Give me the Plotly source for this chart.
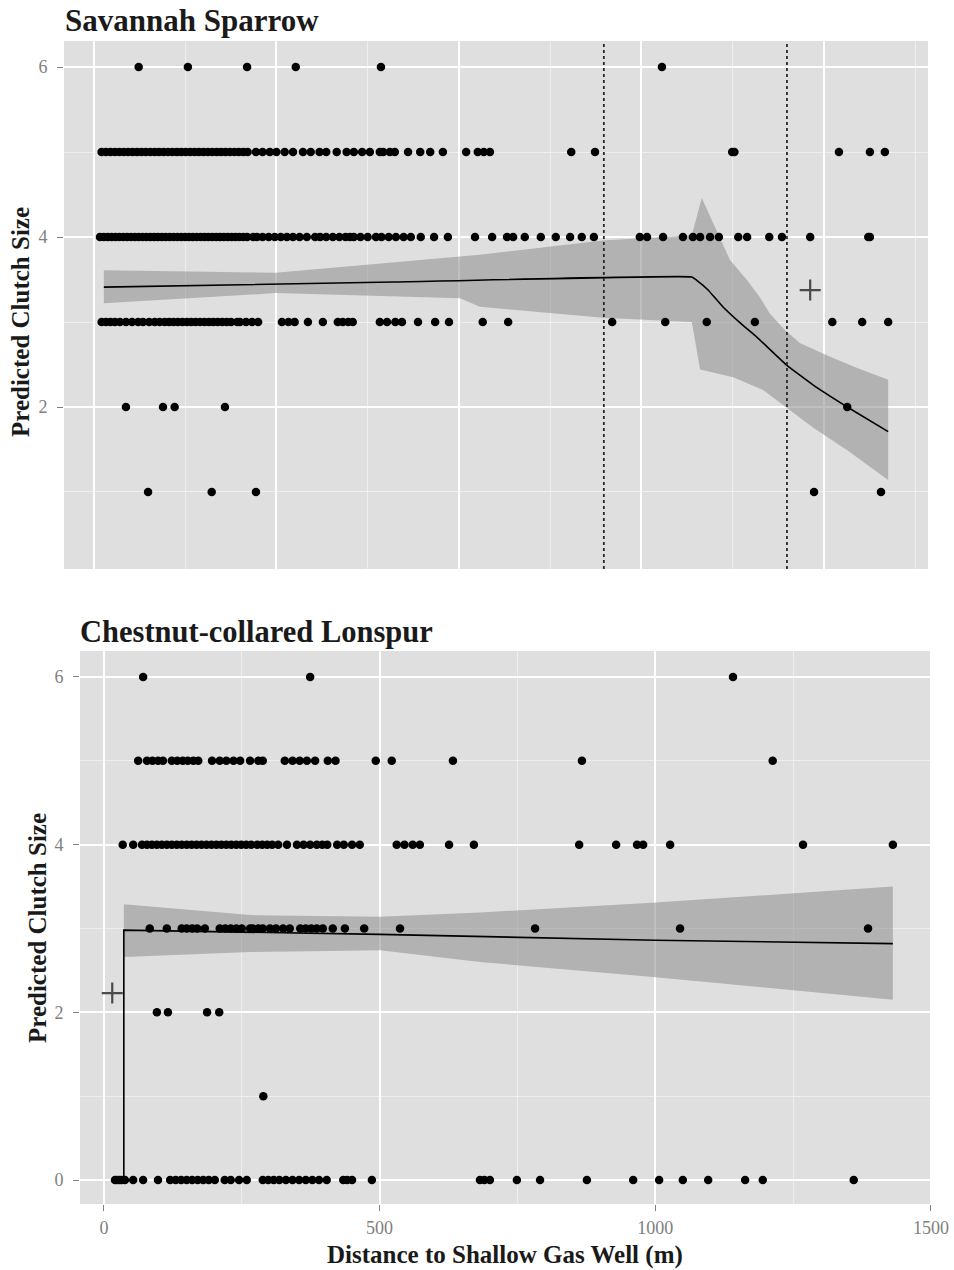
import plotly.graph_objects as go

# ---------------- Savannah Sparrow (top panel) ----------------
ss_6 = [81, 170, 277, 365, 519, 1027]
ss_5 = [14, 22, 30, 38, 46, 54, 62, 70, 78, 86, 94, 102, 110, 118, 126, 134, 142, 150, 158, 166,
        174, 182, 190, 198, 206, 214, 222, 230, 238, 246, 254, 262, 270, 278, 293, 305, 318, 330,
        345, 360, 378, 392, 408, 420, 439, 457, 470, 485, 499, 517, 523, 535, 544, 568, 590, 608,
        631, 673, 694, 705, 716, 863, 906, 1154, 1158, 1347, 1403, 1430]
ss_4 = [11, 18, 25, 32, 39, 46, 53, 60, 67, 74, 81, 88, 95, 102, 109, 116, 123, 130, 137, 144,
        151, 158, 165, 172, 179, 186, 193, 200, 207, 214, 221, 228, 235, 242, 249, 256, 263, 270,
        277, 288, 295, 305, 316, 327, 338, 349, 360, 372, 385, 400, 409, 420, 432, 444, 455, 463,
        470, 482, 495, 510, 520, 533, 546, 560, 573, 591, 615, 640, 689, 720, 747, 758, 779, 808,
        835, 861, 882, 904, 987, 1000, 1029, 1065, 1083, 1096, 1114, 1130, 1165, 1181, 1221, 1244,
        1295, 1400, 1403]
ss_3 = [14, 22, 30, 38, 47, 58, 69, 80, 89, 100, 110, 119, 128, 136, 144, 152, 160, 168, 176, 184,
        192, 200, 208, 216, 224, 232, 240, 248, 259, 264, 275, 286, 297, 340, 352, 363, 387, 414,
        441, 450, 460, 468, 517, 530, 545, 557, 586, 617, 642, 703, 749, 937, 1033, 1108, 1195,
        1335, 1389, 1436]
ss_2 = [58, 125, 146, 237, 1362]
ss_1 = [98, 213, 293, 1302, 1423]

ss_fit_x = [18, 540, 1081, 1090, 1110, 1137, 1170, 1199, 1253, 1300, 1362, 1436]
ss_fit_y = [3.41, 3.47, 3.53, 3.49, 3.38, 3.18, 2.98, 2.82, 2.49, 2.26, 2.00, 1.71]
ss_up_x = [18, 329, 662, 698, 920, 1081, 1099, 1150, 1181, 1204, 1222, 1250, 1277, 1331, 1380, 1436]
ss_up_y = [3.61, 3.58, 3.77, 3.79, 3.96, 4.02, 4.46, 3.73, 3.49, 3.29, 3.10, 2.90, 2.75, 2.59, 2.46, 2.32]
ss_lo_x = [18, 329, 662, 698, 920, 1081, 1096, 1156, 1210, 1253, 1300, 1362, 1436]
ss_lo_y = [3.22, 3.34, 3.28, 3.18, 3.05, 3.00, 2.44, 2.35, 2.20, 1.99, 1.76, 1.49, 1.14]
ss_breaks = [922, 1253]
ss_mean_x = [1295]
ss_mean_y = [3.376]

# ---------------- Chestnut-collared Longspur (bottom panel) ----------------
cc_6 = [71, 374, 1141]
cc_5 = [62, 78, 88, 98, 107, 123, 133, 143, 152, 162, 171, 196, 210, 222, 235, 247, 265, 280, 288,
        328, 342, 355, 368, 383, 406, 420, 493, 522, 633, 867, 1213]
cc_4 = [34, 53, 69, 78, 87, 96, 105, 114, 123, 132, 141, 150, 159, 168, 177, 186, 195, 204, 213,
        222, 231, 240, 249, 258, 267, 278, 287, 296, 305, 316, 332, 350, 362, 374, 386, 396, 405,
        423, 435, 450, 464, 531, 545, 560, 573, 626, 671, 862, 929, 967, 978, 1027, 1268, 1431]
cc_3 = [83, 114, 141, 150, 160, 169, 183, 210, 220, 230, 240, 250, 265, 270, 280, 288, 301, 312,
        325, 337, 356, 366, 376, 386, 397, 415, 437, 472, 537, 782, 1045, 1386]
cc_2 = [96, 116, 187, 209]
cc_1 = [289]
cc_0 = [20, 24, 28, 32, 38, 53, 71, 98, 120, 130, 140, 150, 160, 170, 180, 190, 201, 219, 230, 245,
        259, 288, 298, 308, 318, 330, 342, 354, 366, 378, 390, 404, 434, 441, 450, 486, 682, 690,
        700, 749, 791, 876, 960, 1007, 1050, 1096, 1163, 1195, 1360]

cc_fit_x = [20, 36, 36, 500, 1001, 1431]
cc_fit_y = [0, 0, 2.98, 2.93, 2.86, 2.82]
cc_up_x = [36, 265, 501, 682, 1001, 1431]
cc_up_y = [3.29, 3.16, 3.14, 3.19, 3.31, 3.50]
cc_lo_x = [36, 265, 501, 682, 1001, 1431]
cc_lo_y = [2.66, 2.72, 2.74, 2.60, 2.42, 2.15]
cc_mean_x = [15]
cc_mean_y = [2.23]

ss_rows = {6: ss_6, 5: ss_5, 4: ss_4, 3: ss_3, 2: ss_2, 1: ss_1}
cc_rows = {6: cc_6, 5: cc_5, 4: cc_4, 3: cc_3, 2: cc_2, 1: cc_1, 0: cc_0}

SERIF = "Liberation Serif, Times New Roman, serif"
PANEL = "#dfdfdf"
RIBBON = "rgba(140,140,140,0.55)"

fig = go.Figure()


def add_panel(rows, fx, fy, ux, uy, lx, ly, mx, my, xa, ya, smooth):
    fig.add_trace(go.Scatter(x=ux + lx[::-1], y=uy + ly[::-1], fill="toself", fillcolor=RIBBON,
                             line=dict(width=0), mode="lines", hoverinfo="skip",
                             xaxis=xa, yaxis=ya, showlegend=False))
    line = dict(color="black", width=1.6)
    if smooth:
        line.update(shape="spline", smoothing=0.3)
    fig.add_trace(go.Scatter(x=fx, y=fy, mode="lines", line=line,
                             xaxis=xa, yaxis=ya, showlegend=False))
    px, py = [], []
    for val, xs in rows.items():
        px += xs
        py += [val] * len(xs)
    fig.add_trace(go.Scatter(x=px, y=py, mode="markers",
                             marker=dict(color="black", size=8.5, line=dict(width=0)),
                             xaxis=xa, yaxis=ya, showlegend=False))
    fig.add_trace(go.Scatter(x=mx, y=my, mode="markers",
                             marker=dict(symbol="cross-thin", size=15, color="#4a4a4a",
                                         line=dict(color="#4a4a4a", width=2.2)),
                             xaxis=xa, yaxis=ya, showlegend=False))


add_panel(ss_rows, ss_fit_x, ss_fit_y, ss_up_x, ss_up_y, ss_lo_x, ss_lo_y,
          ss_mean_x, ss_mean_y, "x", "y", True)
add_panel(cc_rows, cc_fit_x, cc_fit_y, cc_up_x, cc_up_y, cc_lo_x, cc_lo_y,
          cc_mean_x, cc_mean_y, "x2", "y2", False)

for b in ss_breaks:
    fig.add_shape(type="line", xref="x", yref="y domain", x0=b, x1=b, y0=0, y1=1,
                  line=dict(color="#2a2a2a", width=1.8, dash="dot"))

W, H = 954, 1270

common_axis = dict(showline=False, zeroline=False, gridcolor="white", gridwidth=1.6,
                   automargin=False,
                   ticks="outside", ticklen=6, tickcolor="#808080", tickwidth=1.2,
                   tickfont=dict(family=SERIF, size=18, color="#808080"))
minor_grid = dict(showgrid=True, gridcolor="#efefef", gridwidth=1)

fig.update_layout(
    width=W, height=H, autosize=False,
    margin=dict(l=0, r=0, t=0, b=0),
    paper_bgcolor="white", plot_bgcolor=PANEL,
    xaxis=dict(domain=[64 / W, 928 / W], range=[-54, 1508], anchor="y",
               tick0=0, dtick=330, showticklabels=False,
               minor=dict(dtick=165, tick0=0, **minor_grid),
               **{k: v for k, v in common_axis.items() if k != "ticks"}, ticks=""),
    yaxis=dict(domain=[1 - 569 / H, 1 - 41 / H], range=[0.094, 6.306], anchor="x",
               tickvals=[2, 4, 6], minor=dict(tickvals=[1, 3, 5], **minor_grid),
               ticklabelstandoff=6, **common_axis),
    xaxis2=dict(domain=[80 / W, 932 / W], range=[-43.5, 1502], anchor="y2",
                tickvals=[0, 500, 1000, 1500],
                minor=dict(tickvals=[250, 750, 1250], **minor_grid),
                ticklabelstandoff=1, **common_axis),
    yaxis2=dict(domain=[1 - 1204 / H, 1 - 651 / H], range=[-0.286, 6.31], anchor="x2",
                tickvals=[0, 2, 4, 6], minor=dict(tickvals=[1, 3, 5], **minor_grid),
                ticklabelstandoff=6, **common_axis),
)

annots = [
    dict(text="<b>Savannah Sparrow</b>", x=63 / W, y=1 - 21 / H, xanchor="left", yanchor="middle",
         font=dict(size=31, family=SERIF, color="#1a1a1a")),
    dict(text="<b>Chestnut-collared Lonspur</b>", x=78 / W, y=1 - 632 / H, xanchor="left",
         yanchor="middle", font=dict(size=30.5, family=SERIF, color="#1a1a1a")),
    dict(text="<b>Predicted Clutch Size</b>", x=20 / W, y=1 - 322 / H, textangle=-90,
         xanchor="center", yanchor="middle", font=dict(size=25, family=SERIF, color="#1a1a1a")),
    dict(text="<b>Predicted Clutch Size</b>", x=37 / W, y=1 - 928 / H, textangle=-90,
         xanchor="center", yanchor="middle", font=dict(size=25, family=SERIF, color="#1a1a1a")),
    dict(text="<b>Distance to Shallow Gas Well (m)</b>", x=505 / W, y=1 - 1255 / H,
         xanchor="center", yanchor="middle", font=dict(size=25, family=SERIF, color="#1a1a1a")),
]
for a in annots:
    fig.add_annotation(xref="paper", yref="paper", showarrow=False, **a)

fig.write_html("out.html")
